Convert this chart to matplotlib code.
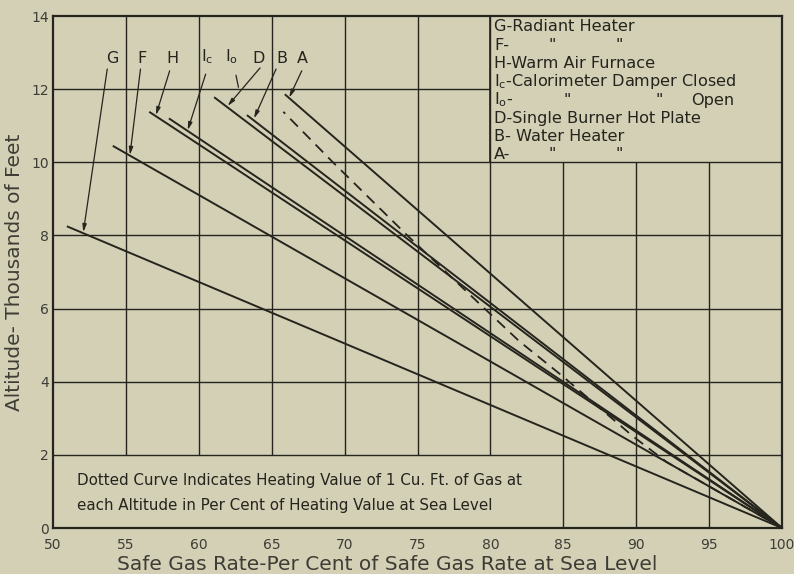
import matplotlib
matplotlib.use("Agg")
import matplotlib.pyplot as plt

plt.rcParams['font.family'] = ['DejaVu Sans']
plt.rcParams['mathtext.default'] = 'regular'

# ---- data ----
line_names = ["G", "F", "H", "Ic", "D", "B", "A"]
start_pct = [50.95, 54.1, 56.6, 57.95, 61.05, 63.3, 65.9]   # % of sea-level rate at line top
start_alt = [8.25, 10.45, 11.38, 11.2, 11.78, 11.29, 11.86]  # thousands of feet
end_pct = 100.0
end_alt = 0.0

dotted_pct = [100.0, 92.1, 89.8, 84.8, 82.0, 79.6, 74.3, 69.2, 65.8]
dotted_alt = [0.0, 1.8, 2.5, 4.2, 5.1, 6.0, 8.0, 10.0, 11.38]

label_text = ["G", "F", "H", r"I$_c$", r"I$_o$", "D", "B", "A"]
label_x = [54.1, 56.1, 58.2, 60.55, 62.25, 64.1, 65.7, 67.1]
label_y = [12.62] * 8
leader_from = [(53.72, 12.55), (56.0, 12.55), (58.0, 12.5), (60.47, 12.41),
               (62.55, 12.38), (64.2, 12.58), (65.3, 12.55), (67.06, 12.5)]
leader_to = [(52.08, 8.09), (55.28, 10.2), (57.06, 11.29), (59.24, 10.88),
             (62.72, 12.05), (61.98, 11.54), (63.79, 11.2), (66.2, 11.77)]
leader_arrow = [True, True, True, True, False, True, True, True]

xticks = [50, 55, 60, 65, 70, 75, 80, 85, 90, 95, 100]
yticks = [0, 2, 4, 6, 8, 10, 12, 14]

legend_rows = [
    ["G-Radiant Heater"],
    ["F-", '"', '"'],
    ["H-Warm Air Furnace"],
    [r"I$_c$-Calorimeter Damper Closed"],
    [r"I$_o$-", '"', '"', "Open"],
    ["D-Single Burner Hot Plate"],
    ["B- Water Heater"],
    ["A-", '"', '"'],
]
note_lines = ["Dotted Curve Indicates Heating Value of 1 Cu. Ft. of Gas at",
              "each Altitude in Per Cent of Heating Value at Sea Level"]
xlabel = "Safe Gas Rate-Per Cent of Safe Gas Rate at Sea Level"
ylabel = "Altitude- Thousands of Feet"

# ---- styling ----
bg = "#d3d0b6"
ink = "#25241d"
tick_ink = "#3e3d35"

fig = plt.figure(figsize=(7.94, 5.74), dpi=100, facecolor=bg)
ax = fig.add_axes([53/794, 1-528/574, (782-53)/794, (528-16)/574])
ax.set_facecolor(bg)
ax.set_xlim(50, 100)
ax.set_ylim(0, 14)

# grid (with the legend box and note area left clear)
gkw = dict(color=ink, lw=1.0, zorder=1)
for xv in [55, 60, 65, 70, 75, 80]:
    ax.vlines(xv, 2, 14, **gkw)
for xv in [85, 90, 95]:
    ax.vlines(xv, 0, 10, **gkw)
for yv in [2, 4, 6, 8, 10]:
    ax.hlines(yv, 50, 100, **gkw)
ax.hlines(12, 50, 80, **gkw)
ax.vlines(80, 10, 14, color=ink, lw=1.2, zorder=1)

for s in ax.spines.values():
    s.set_color(ink)
    s.set_linewidth(1.6)

# lines
for px, py in zip(start_pct, start_alt):
    ax.plot([px, end_pct], [py, end_alt], color=ink, lw=1.4, zorder=3,
            solid_capstyle='butt')
ax.plot(dotted_pct, dotted_alt, color=ink, lw=1.3, ls=(0, (6, 4)), zorder=3)

# labels with leaders
for t, lx, ly, f, to, arr in zip(label_text, label_x, label_y, leader_from, leader_to, leader_arrow):
    ax.text(lx, ly, t, ha='center', va='bottom', fontsize=11.5, color=ink, zorder=5)
    style = '-|>,head_length=0.45,head_width=0.12' if arr else '-'
    ax.annotate("", xy=to, xytext=f,
                arrowprops=dict(arrowstyle=style, color=ink, lw=0.9,
                                shrinkA=0, shrinkB=0), zorder=5)

# legend
leg_x = [[80.25], [80.25, 84.0, 88.6], [80.25], [80.25], [80.25, 85.0, 91.3, 93.8],
         [80.25], [80.25], [80.25, 84.0, 88.6]]
for i, row in enumerate(legend_rows):
    yv = 13.7 - i * 0.5
    for txt, xv in zip(row, leg_x[i]):
        ax.text(xv, yv, txt, ha='left', va='center', fontsize=11.6, color=ink, zorder=5)

# note
for i, t in enumerate(note_lines):
    ax.text(51.65, 1.3 - i * 0.68, t, ha='left', va='center', fontsize=10.9,
            color=ink, zorder=5)

ax.set_xticks(xticks)
ax.set_yticks(yticks)
ax.tick_params(length=0, pad=7, labelsize=10, colors=tick_ink)
ax.tick_params(axis='y', pad=3)
ax.set_xlabel(xlabel, fontsize=14.5, color=tick_ink)
ax.xaxis.set_label_coords((387 - 53) / 729, -0.052, transform=ax.transAxes)
ax.xaxis.label.set_va('top')
ax.set_ylabel(ylabel, fontsize=14.5, color=tick_ink, labelpad=5)

fig.savefig("out.png", dpi=100, facecolor=bg)
